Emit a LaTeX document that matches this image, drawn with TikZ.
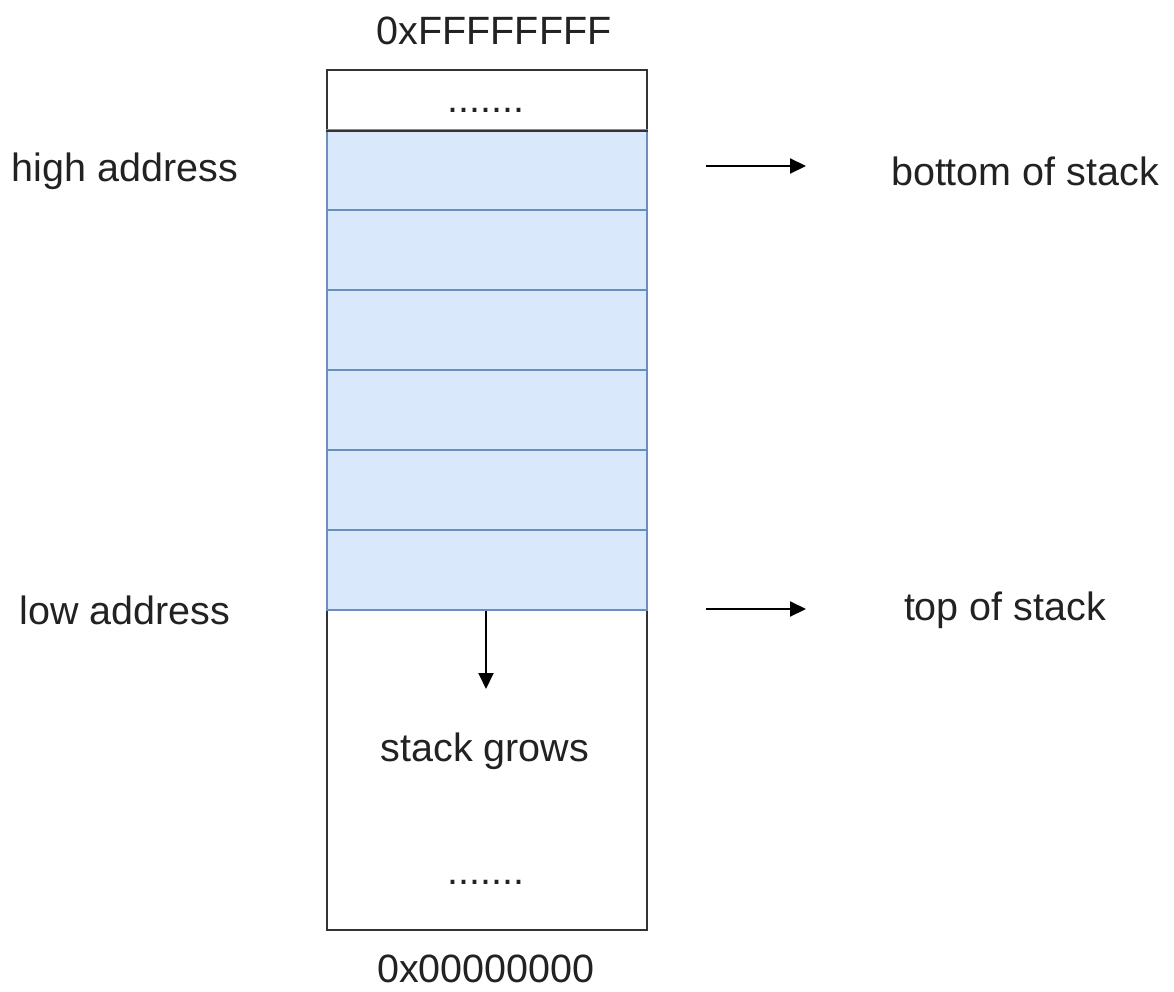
\documentclass[tikz,border=0pt]{standalone}
\usepackage{fontspec}
\setmainfont{Liberation Sans}
\usetikzlibrary{arrows.meta}
\definecolor{txt}{HTML}{222222}
\definecolor{cellfill}{HTML}{DAE8FC}
\definecolor{cellline}{HTML}{6C8EBF}
\definecolor{boxline}{HTML}{333333}
\tikzset{
  lbl/.style={inner sep=0pt, text=txt, font=\fontsize{39.5}{44}\selectfont},
  cell/.style={draw=cellline, fill=cellfill, line width=1.6pt, minimum width=320pt, minimum height=80pt, inner sep=0pt, anchor=north west},
  whitebox/.style={draw=boxline, fill=white, line width=2pt, inner sep=0pt, anchor=north west},
  arr/.style={draw=black, line width=2pt, -{Triangle[length=16pt,width=15pt]}}
}
\begin{document}
\begin{tikzpicture}[x=1pt,y=-1pt]
\useasboundingbox (0,0) rectangle (1174,992);
% white boxes
\node[whitebox, minimum width=320pt, minimum height=60pt] (top) at (326,69) {};
\node[whitebox, minimum width=320pt, minimum height=320pt] (bot) at (326,609) {};
% cells
\node[cell] (c1) at (326,129) {};
\node[cell] (c2) at (326,209) {};
\node[cell] (c3) at (326,289) {};
\node[cell] (c4) at (326,369) {};
\node[cell] (c5) at (326,449) {};
\node[cell] (c6) at (326,529) {};
\draw[boxline, line width=2pt] (top.south west) -- (top.south east);
% texts
\node[lbl] (ff) at (494,31) {0xFFFFFFFF};
\node[lbl] (zz) at (486,969) {0x00000000};
\node[lbl] (dt1) at (486,110) {.......};
\node[lbl] (dt2) at (486,882) {.......};
\node[lbl] (hi) at (125,171) {high address};
\node[lbl] (lo) at (125,610) {low address};
\node[lbl] (bs) at (1025,171) {bottom of stack};
\node[lbl] (ts) at (1005,610) {top of stack};
\node[lbl] (sg) at (485,751) {stack grows};
% arrows
\coordinate (a1s) at (706,166);
\coordinate (a1e) at (806,166);
\coordinate (a2s) at (706,609);
\coordinate (a2e) at (806,609);
\coordinate (a3e) at (486,689);
\draw[arr] (a1s) -- (a1e);
\draw[arr] (a2s) -- (a2e);
\draw[arr] (c6.south -| a3e) -- (a3e);
\end{tikzpicture}
\end{document}
